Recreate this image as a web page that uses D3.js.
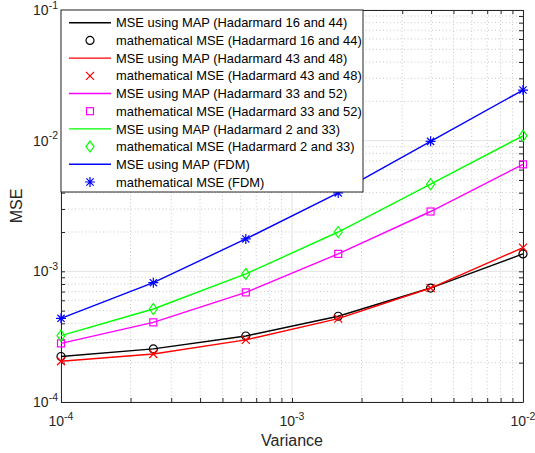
<!DOCTYPE html>
<html><head><meta charset="utf-8">
<script src="https://cdn.jsdelivr.net/npm/d3@7"></script>
<style>
body{margin:0;background:#fff;}
svg{font-family:"Liberation Sans",Arial,Helvetica,sans-serif;}
</style></head>
<body><svg id="c" width="535" height="453"></svg>
<script>
const variance = [1e-4, 2.51e-4, 6.31e-4, 1.585e-3, 3.98e-3, 1e-2];
const mapH16_44 = [2.23e-4, 2.55e-4, 3.2e-4, 4.53e-4, 7.45e-4, 1.36e-3];
const mathH16_44 = [2.23e-4, 2.55e-4, 3.2e-4, 4.53e-4, 7.45e-4, 1.36e-3];
const mapH43_48 = [2.05e-4, 2.33e-4, 2.99e-4, 4.35e-4, 7.45e-4, 1.52e-3];
const mathH43_48 = [2.05e-4, 2.33e-4, 2.99e-4, 4.35e-4, 7.45e-4, 1.52e-3];
const mapH33_52 = [2.81e-4, 4.07e-4, 6.9e-4, 1.36e-3, 2.87e-3, 6.59e-3];
const mathH33_52 = [2.81e-4, 4.07e-4, 6.9e-4, 1.36e-3, 2.87e-3, 6.59e-3];
const mapH2_33 = [3.22e-4, 5.15e-4, 9.55e-4, 2.0e-3, 4.64e-3, 1.09e-2];
const mathH2_33 = [3.22e-4, 5.15e-4, 9.55e-4, 2.0e-3, 4.64e-3, 1.09e-2];
const mapFDM = [4.37e-4, 8.19e-4, 1.77e-3, 3.98e-3, 9.88e-3, 2.44e-2];
const mathFDM = [4.37e-4, 8.19e-4, 1.77e-3, 3.98e-3, 9.88e-3, 2.44e-2];
const xTicks = [1e-4, 1e-3, 1e-2];
const yTicks = [1e-4, 1e-3, 1e-2, 1e-1];
const legendLabels = [
  "MSE using MAP (Hadarmard 16 and 44)", "mathematical MSE (Hadarmard 16 and 44)",
  "MSE using MAP (Hadarmard 43 and 48)", "mathematical MSE (Hadarmard 43 and 48)",
  "MSE using MAP (Hadarmard 33 and 52)", "mathematical MSE (Hadarmard 33 and 52)",
  "MSE using MAP (Hadarmard 2 and 33)", "mathematical MSE (Hadarmard 2 and 33)",
  "MSE using MAP (FDM)", "mathematical MSE (FDM)"];

const L=61, R=523, T=10, B=402;
const svg = d3.select("#c");
const x = d3.scaleLog().domain([1e-4,1e-2]).range([L,R]);
const y = d3.scaleLog().domain([1e-4,1e-1]).range([B,T]);

function minors(lo, hi){const a=[];for(let e=lo;e<hi;e++)for(let m=2;m<=9;m++)a.push(m*Math.pow(10,e));return a;}
const xMinor = minors(-4,-2), yMinor = minors(-4,-1);

// grid
const g = svg.append("g");
g.selectAll(".xm").data(xMinor).enter().append("line")
 .attr("x1",d=>x(d)).attr("x2",d=>x(d)).attr("y1",T).attr("y2",B)
 .attr("stroke","#bdbdbd").attr("stroke-width",0.8).attr("stroke-dasharray","1,2.5");
g.selectAll(".ym").data(yMinor).enter().append("line")
 .attr("y1",d=>y(d)).attr("y2",d=>y(d)).attr("x1",L).attr("x2",R)
 .attr("stroke","#bdbdbd").attr("stroke-width",0.8).attr("stroke-dasharray","1,2.5");
g.selectAll(".xM").data(xTicks).enter().append("line")
 .attr("x1",d=>x(d)).attr("x2",d=>x(d)).attr("y1",T).attr("y2",B)
 .attr("stroke","#e3e3e3").attr("stroke-width",1);
g.selectAll(".yM").data(yTicks).enter().append("line")
 .attr("y1",d=>y(d)).attr("y2",d=>y(d)).attr("x1",L).attr("x2",R)
 .attr("stroke","#e3e3e3").attr("stroke-width",1);

// axes with inward ticks
function ax(gen, tv, tr){
  const a = svg.append("g").attr("transform",tr).call(gen.tickValues(tv).tickSizeInner(-4).tickSizeOuter(0).tickFormat(""));
  a.select(".domain").attr("stroke","#262626");
  a.selectAll(".tick line").attr("stroke","#262626");
  return a;
}
const allX = xTicks.concat(xMinor), allY = yTicks.concat(yMinor);
ax(d3.axisBottom(x), allX, `translate(0,${B})`);
ax(d3.axisTop(x), allX, `translate(0,${T})`);
ax(d3.axisLeft(y), allY, `translate(${L},0)`);
ax(d3.axisRight(y), allY, `translate(${R},0)`);

// tick labels
function expLabel(sel, v){
  const e = Math.round(Math.log10(v));
  sel.append("tspan").text("10");
  sel.append("tspan").attr("dy",-6.5).attr("font-size",10.5).text(String(e));
}
xTicks.forEach(v=>{
  const t = svg.append("text").attr("x",x(v)).attr("y",B+24).attr("text-anchor","middle")
    .attr("font-size",14).attr("fill","#262626");
  expLabel(t,v);
});
yTicks.forEach(v=>{
  const t = svg.append("text").attr("x",L-3).attr("y",y(v)+5).attr("text-anchor","end")
    .attr("font-size",14).attr("fill","#262626");
  expLabel(t,v);
});
svg.append("text").attr("x",(L+R)/2).attr("y",446).attr("text-anchor","middle")
  .attr("font-size",16).attr("fill","#262626").text("Variance");
svg.append("text").attr("transform",`translate(22,${(T+B)/2}) rotate(-90)`).attr("text-anchor","middle")
  .attr("font-size",16).attr("fill","#262626").text("MSE");

// series
const series = [
  {line:mapH16_44, pts:mathH16_44, color:"#000000", marker:"circle"},
  {line:mapH43_48, pts:mathH43_48, color:"#ff0000", marker:"x"},
  {line:mapH33_52, pts:mathH33_52, color:"#ff00ff", marker:"square"},
  {line:mapH2_33, pts:mathH2_33, color:"#00ff00", marker:"diamond"},
  {line:mapFDM, pts:mathFDM, color:"#0000ff", marker:"star"}
];
function drawMarker(parent, type, cx, cy, color){
  const s = parent.append("g").attr("transform",`translate(${cx},${cy})`)
    .attr("fill","none").attr("stroke",color).attr("stroke-width",1.2);
  if(type==="circle") s.append("circle").attr("r",4);
  else if(type==="square") s.append("rect").attr("x",-3.5).attr("y",-3.5).attr("width",7).attr("height",7);
  else if(type==="diamond") s.append("path").attr("d","M0,-5.5L4,0L0,5.5L-4,0Z");
  else if(type==="x") s.append("path").attr("d","M-4,-4L4,4M-4,4L4,-4");
  else if(type==="star") s.append("path").attr("d","M-5,0L5,0M0,-5L0,5M-3.6,-3.6L3.6,3.6M-3.6,3.6L3.6,-3.6");
}
const lineGen = d3.line().x((d,i)=>x(variance[i])).y(d=>y(d));
series.forEach(s=>{
  svg.append("path").datum(s.line).attr("d",lineGen).attr("fill","none")
    .attr("stroke",s.color).attr("stroke-width",1.4);
  s.pts.forEach((v,i)=>drawMarker(svg,s.marker,x(variance[i]),y(v),s.color));
});

// legend
const lg = svg.append("g");
lg.append("rect").attr("x",61).attr("y",10).attr("width",302).attr("height",182)
  .attr("fill","#fff").attr("stroke","#262626").attr("stroke-width",1);
legendLabels.forEach((lab,i)=>{
  const s = series[Math.floor(i/2)];
  const cy = 22.7 + i*17.7;
  if(i%2===0){
    lg.append("line").attr("x1",69).attr("x2",111).attr("y1",cy).attr("y2",cy)
      .attr("stroke",s.color).attr("stroke-width",1.4);
  } else {
    drawMarker(lg,s.marker,90,cy,s.color);
  }
  lg.append("text").attr("x",116).attr("y",cy+4.6).attr("font-size",12.9).attr("fill","#000").text(lab);
});
</script></body></html>
